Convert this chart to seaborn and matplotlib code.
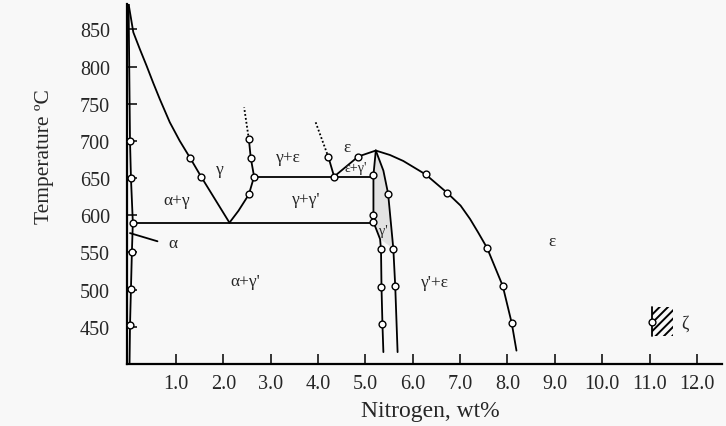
import numpy as np
import matplotlib.pyplot as plt
import seaborn as sns

# Fe-N phase diagram: nitrogen (wt%) vs temperature (C)
gamma_left_n = [0.0, 0.10, 0.24, 0.38, 0.52, 0.66, 0.87, 1.08, 1.30, 1.53, 2.13]
gamma_left_t = [884, 846, 823, 801, 778, 756, 725, 700, 677, 652, 590]

gamma_right_n = [2.13, 2.32, 2.54, 2.65, 2.58, 2.54]
gamma_right_t = [590, 606, 628, 652, 677, 702]
gamma_dot_n = [2.54, 2.44]
gamma_dot_t = [702, 745]

eps_left_n = [4.22, 4.34]
eps_left_t = [678, 652]
eps_dot_n = [3.95, 4.22]
eps_dot_t = [725, 678]

eps_gp_n = [4.34, 4.85, 5.22]
eps_gp_t = [652, 679, 687]

gp_left_n = [5.22, 5.17, 5.17, 5.17, 5.31, 5.33, 5.34, 5.36, 5.38]
gp_left_t = [687, 654, 600, 591, 568, 554, 504, 454, 416]

gp_right_n = [5.22, 5.38, 5.48, 5.59, 5.63, 5.68]
gp_right_t = [687, 660, 629, 555, 505, 416]

eps_right_n = [5.22, 5.52, 5.80, 6.27, 6.73, 7.01, 7.21, 7.38, 7.57, 7.90, 8.09, 8.19]
eps_right_t = [687, 681, 673, 655, 630, 613, 595, 577, 556, 505, 455, 418]

alpha_n = [0.0, 0.03, 0.05, 0.09, 0.07, 0.05, 0.03, 0.02]
alpha_t = [884, 700, 650, 590, 551, 501, 452, 400]

iso_upper_n = [2.65, 5.17]
iso_upper_t = [652, 652]
iso_lower_n = [0.09, 5.17]
iso_lower_t = [590, 590]

alpha_lead_n = [0.03, 0.61]
alpha_lead_t = [576, 565]

zeta_n = [11.05, 11.50]
zeta_t = [437, 477]

# measured points (open circles)
circle_n = [0.03, 0.05, 0.09, 0.07, 0.05, 0.03,
            1.30, 1.53,
            2.54, 2.65, 2.58, 2.54,
            4.22, 4.34, 4.85,
            5.17, 5.17, 5.17, 5.33, 5.34, 5.36,
            5.48, 5.59, 5.63,
            6.27, 6.73, 7.57, 7.90, 8.09,
            11.05]
circle_t = [700, 650, 590, 551, 501, 452,
            677, 652,
            628, 652, 677, 702,
            678, 652, 679,
            654, 600, 591, 554, 504, 454,
            629, 555, 505,
            655, 630, 556, 505, 455,
            457]

labels = ["α+γ", "γ", "γ+ε", "ε", "ε+γ'", "γ+γ'", "γ'", "α+γ'", "γ'+ε", "ε", "ζ", "α"]
label_n = [1.02, 1.93, 3.37, 4.61, 4.80, 3.76, 5.37, 2.46, 6.47, 8.95, 11.75, 0.84]
label_t = [621, 662, 678, 692, 664, 622, 579, 512, 510, 565, 455, 563]
label_size = [12.5, 12.5, 12.5, 12.5, 10, 12.5, 10, 12.5, 12.5, 12.5, 13, 12.5]

x_ticks = [1, 2, 3, 4, 5, 6, 7, 8, 9, 10, 11, 12]
x_tick_labels = ["1.0", "2.0", "3.0", "4.0", "5.0", "6.0", "7.0", "8.0",
                 "9.0", "10.0", "11.0", "12.0"]
y_ticks = [450, 500, 550, 600, 650, 700, 750, 800, 850]

sns.set_theme(style="ticks")
plt.rcParams['font.family'] = ['Liberation Serif', 'DejaVu Serif']
plt.rcParams['hatch.linewidth'] = 1.4

bg = "#f8f8f8"
fig = plt.figure(figsize=(7.26, 4.27), dpi=100, facecolor=bg)
ax = fig.add_axes([0.1745, 0.1452, 0.820, 0.843], facecolor=bg)

# light shading of the gamma' field
shade_n = gp_left_n[:5] + gp_right_n[1:4][::-1]
shade_t = gp_left_t[:5] + gp_right_t[1:4][::-1]
ax.fill(shade_n, shade_t, color="#e2e2e2", lw=0, zorder=1)

line_kw = dict(color="black", linewidth=1.3, sort=False, estimator=None, ax=ax)
solid = [(gamma_left_n, gamma_left_t), (gamma_right_n, gamma_right_t),
         (eps_left_n, eps_left_t), (eps_gp_n, eps_gp_t),
         (gp_left_n, gp_left_t), (gp_right_n, gp_right_t),
         (eps_right_n, eps_right_t), (alpha_n, alpha_t),
         (iso_upper_n, iso_upper_t), (iso_lower_n, iso_lower_t),
         (alpha_lead_n, alpha_lead_t)]
for xs, ys in solid:
    sns.lineplot(x=xs, y=ys, **line_kw)

for xs, ys in [(gamma_dot_n, gamma_dot_t), (eps_dot_n, eps_dot_t)]:
    sns.lineplot(x=xs, y=ys, linestyle=(0, (1, 1.2)), **line_kw)

# zeta: hatched patch with a vertical edge
ax.fill_between(zeta_n, zeta_t[0], zeta_t[1], hatch="////", facecolor="none",
                edgecolor="black", linewidth=0, zorder=2)
sns.lineplot(x=[zeta_n[0], zeta_n[0]], y=zeta_t, **line_kw)

sns.scatterplot(x=circle_n, y=circle_t, s=24, color="white", edgecolor="black",
                linewidth=1.0, zorder=4, ax=ax)

for txt, xn, yt, fs in zip(labels, label_n, label_t, label_size):
    ha = "left" if txt == "α" and xn < 1 else "center"
    ax.text(xn, yt, txt, fontsize=fs, ha=ha, va="center")

ax.set_xlim(-0.04, 12.53)
ax.set_ylim(400, 884)
ax.set_xticks(x_ticks)
ax.set_xticklabels(x_tick_labels)
ax.set_yticks(y_ticks)

ax.tick_params(axis="both", direction="in", length=7, width=1.3, labelsize=14.5)
ax.tick_params(axis="y", pad=12)
ax.tick_params(axis="x", pad=7)

for side in ["top", "right"]:
    ax.spines[side].set_visible(False)
for side in ["left", "bottom"]:
    ax.spines[side].set_linewidth(1.6)
    ax.spines[side].set_color("black")

ax.set_xlabel("Nitrogen, wt%", fontsize=17)
ax.set_ylabel("Temperature ºC", fontsize=15.5)
ax.xaxis.set_label_coords(0.51, -0.1)
ax.yaxis.set_label_coords(-0.122, 0.578)

fig.savefig("out.png", dpi=100, facecolor=bg)
